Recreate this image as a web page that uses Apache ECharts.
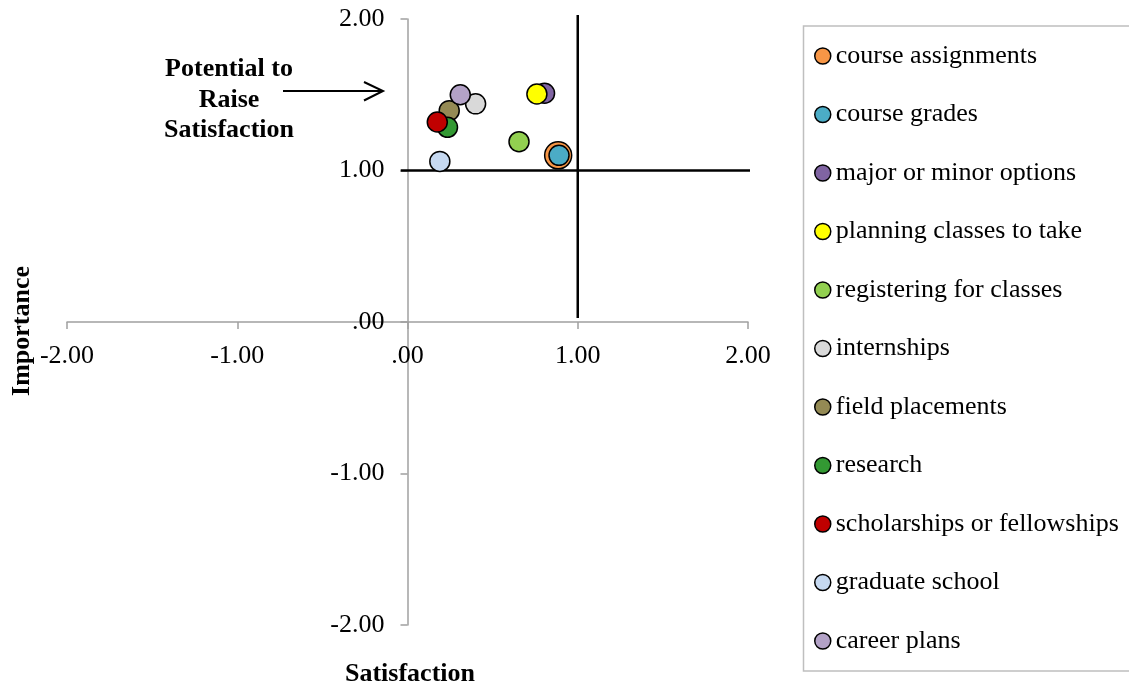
<!DOCTYPE html>
<html><head><meta charset="utf-8">
<script src="https://cdn.jsdelivr.net/npm/echarts@6/dist/echarts.min.js"></script>
<style>html,body{margin:0;padding:0;background:#fff}#c{width:1129px;height:688px}</style>
</head><body><div id="c"></div>
<script>
// ---- data ----
const names = ['course assignments','course grades','major or minor options','planning classes to take','registering for classes','internships','field placements','research','scholarships or fellowships','graduate school','career plans'];
const satisfaction = [0.885, 0.89, 0.805, 0.76, 0.655, 0.40, 0.245, 0.235, 0.175, 0.19, 0.31];
const importance   = [1.10, 1.10, 1.51, 1.505, 1.19, 1.44, 1.395, 1.285, 1.32, 1.06, 1.50];
const tickValues = [-2, -1, 0, 1, 2];
const tickLabels = ['-2.00', '-1.00', '.00', '1.00', '2.00'];
const thresholdSatisfaction = 1.0;
const thresholdImportance = 1.0;
const vLineImportanceRange = [2.026, 0.026];
const hLineSatisfactionRange = [-0.04, 2.025];
const annotationLines = ['Potential to', 'Raise', 'Satisfaction'];
const xTitle = 'Satisfaction';
const yTitle = 'Importance';

// ---- styles / layout ----
const colors = ['#F79646','#4BACC6','#8064A2','#FFFF00','#92D050','#D9D9D9','#948A54','#339933','#C00000','#C6D9F1','#B3A2C7'];
const markerSizes = [27, 20, 20, 20, 20, 20, 20, 20, 20, 20, 20];
const FONT = '"Liberation Serif","Times New Roman",serif';
const fmt = v => { const i = tickValues.indexOf(v); return i >= 0 ? tickLabels[i] : ''; };
const G = {left:67, right:381, top:19, bottom:63, W:1129, H:688};
const plotW = G.W - G.left - G.right, plotH = G.H - G.top - G.bottom;
// axes cross at zero: shift them from the grid edge to the zero line
const xAxisOffset = -plotH * (0 - (-2)) / (2 - (-2));
const yAxisOffset = -plotW * (0 - (-2)) / (2 - (-2));

const series = [
  { type:'line', name:'_v', data:[[thresholdSatisfaction, vLineImportanceRange[0]],[thresholdSatisfaction, vLineImportanceRange[1]]],
    symbol:'none', silent:true, clip:false, z:1, lineStyle:{color:'#000', width:2.5}, animation:false },
  { type:'line', name:'_h', data:[[hLineSatisfactionRange[0], thresholdImportance],[hLineSatisfactionRange[1], thresholdImportance]],
    symbol:'none', silent:true, clip:false, z:1, lineStyle:{color:'#000', width:2.5}, animation:false }
];
names.forEach((n, i) => {
  series.push({
    type:'scatter', name:n, data:[[satisfaction[i], importance[i]]],
    symbol:'circle', symbolSize: markerSizes[i], z: 3,
    itemStyle:{color:colors[i], borderColor:'#000', borderWidth:1.5, opacity:1},
    emphasis:{disabled:true}, animation:false, clip:false
  });
});

const axisCommon = {
  type:'value', min:-2, max:2, interval:1,
  axisLine:{show:true, onZero:false, lineStyle:{color:'#a0a0a0', width:1.5}},
  axisTick:{show:true, inside:false, length:7, lineStyle:{color:'#a0a0a0', width:1.5}},
  splitLine:{show:false}
};

const chart = echarts.init(document.getElementById('c'), null, {renderer:'canvas'});
chart.setOption({
  backgroundColor:'#fff',
  animation:false,
  grid:{left:G.left, right:G.right, top:G.top, bottom:G.bottom, containLabel:false, outerBoundsMode:'none'},
  xAxis:Object.assign({}, axisCommon, {position:'bottom', offset:xAxisOffset,
    axisLabel:{margin:21, formatter:fmt, color:'#000', fontFamily:FONT, fontSize:26, hideOverlap:false}}),
  yAxis:Object.assign({}, axisCommon, {position:'left', offset:yAxisOffset,
    axisLabel:{margin:23, formatter:fmt, color:'#000', fontFamily:FONT, fontSize:26, hideOverlap:false}}),
  legend:{data:names, orient:'vertical', left:814, top:41, padding:0,
    itemWidth:16, itemHeight:16, itemGap:28.5, icon:'circle', selectedMode:false,
    itemStyle:{borderColor:'#000', borderWidth:1.5},
    textStyle:{fontFamily:FONT, fontSize:26, color:'#000', lineHeight:30}},
  graphic:[
    {type:'rect', shape:{x:803.5, y:26, width:400, height:645}, style:{fill:'none', stroke:'#bfbfbf', lineWidth:1.5}, silent:true, z:-1},
    {type:'text', x:229, y:100, style:{text:annotationLines.join('\n'), align:'center', verticalAlign:'middle', font:'bold 26px ' + FONT, lineHeight:30.5, fill:'#000'}},
    {type:'polyline', shape:{points:[[283,91],[382,91]]}, style:{stroke:'#000', lineWidth:2, fill:null}},
    {type:'polyline', shape:{points:[[364,82],[383,91],[364,100.5]]}, style:{stroke:'#000', lineWidth:2, fill:null}},
    {type:'text', x:410, y:674, style:{text:xTitle, align:'center', verticalAlign:'middle', font:'bold 26px ' + FONT, fill:'#000'}},
    {type:'text', x:22, y:331, rotation:Math.PI/2, style:{text:yTitle, align:'center', verticalAlign:'middle', font:'bold 26px ' + FONT, fill:'#000'}}
  ],
  series: series
});
</script></body></html>
